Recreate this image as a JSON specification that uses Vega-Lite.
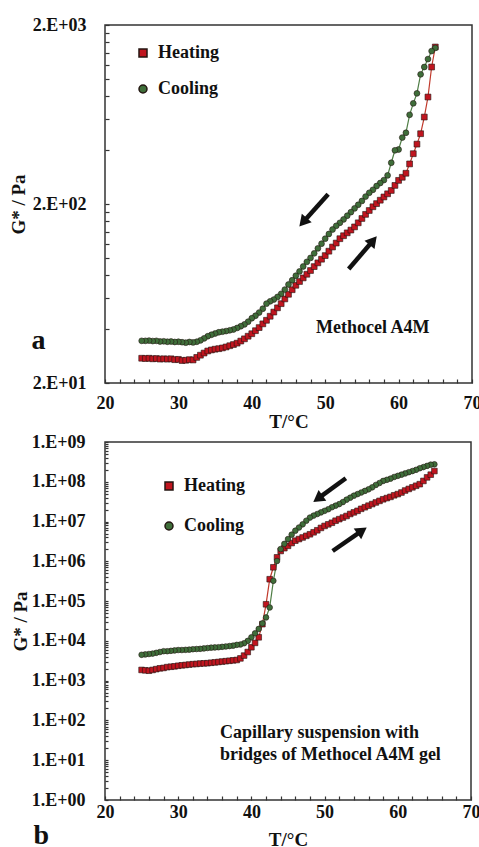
{
  "$schema": "https://vega.github.io/schema/vega-lite/v6.json",
  "padding": {"top": 15, "left": 8, "right": 6, "bottom": 0},
  "spacing": 0,
  "resolve": {"legend": {"fill": "independent", "shape": "independent"}},
  "config": {
    "font": "Liberation Serif",
    "view": {"stroke": "#333", "strokeWidth": 1.5},
    "axis": {
      "labelFont": "Liberation Serif", "labelFontWeight": "bold", "labelFontSize": 18, "labelColor": "#111",
      "titleFont": "Liberation Serif", "titleFontWeight": "bold", "titleFontSize": 19, "titleColor": "#111",
      "grid": false, "domain": false, "tickColor": "#333", "tickWidth": 1.2, "tickSize": -4,
      "labelOverlap": false, "labelBound": false, "labelFlush": false
    },
    "legend": {
      "labelFont": "Liberation Serif", "labelFontWeight": "bold", "labelFontSize": 18, "labelColor": "#111",
      "symbolSize": 64, "padding": 0, "labelOffset": 6, "title": null
    }
  },
  "datasets": {
    "a": [
      {"s":"Heating","T":25,"G":27.5},{"s":"Heating","T":25.5,"G":27.4},{"s":"Heating","T":26,"G":27.5},{"s":"Heating","T":26.5,"G":27.3},
      {"s":"Heating","T":27,"G":27.4},{"s":"Heating","T":27.5,"G":27.2},{"s":"Heating","T":28,"G":27.3},{"s":"Heating","T":28.5,"G":27.2},
      {"s":"Heating","T":29,"G":27.3},{"s":"Heating","T":29.5,"G":27.0},{"s":"Heating","T":30,"G":27.1},{"s":"Heating","T":30.5,"G":26.7},
      {"s":"Heating","T":31,"G":26.8},{"s":"Heating","T":31.5,"G":27.0},{"s":"Heating","T":32,"G":26.9},{"s":"Heating","T":32.5,"G":27.8},
      {"s":"Heating","T":33,"G":28.6},{"s":"Heating","T":33.5,"G":29.4},{"s":"Heating","T":34,"G":30.2},{"s":"Heating","T":34.5,"G":30.6},
      {"s":"Heating","T":35,"G":30.9},{"s":"Heating","T":35.5,"G":31.1},{"s":"Heating","T":36,"G":31.4},{"s":"Heating","T":36.5,"G":31.8},
      {"s":"Heating","T":37,"G":32.3},{"s":"Heating","T":37.5,"G":32.8},{"s":"Heating","T":38,"G":33.4},{"s":"Heating","T":38.5,"G":34.3},
      {"s":"Heating","T":39,"G":35.3},{"s":"Heating","T":39.5,"G":36.5},{"s":"Heating","T":40,"G":37.7},{"s":"Heating","T":40.5,"G":39.2},
      {"s":"Heating","T":41,"G":40.8},{"s":"Heating","T":41.5,"G":42.8},{"s":"Heating","T":42,"G":44.8},{"s":"Heating","T":42.5,"G":47.2},
      {"s":"Heating","T":43,"G":49.8},{"s":"Heating","T":43.5,"G":52.6},{"s":"Heating","T":44,"G":55.5},{"s":"Heating","T":44.5,"G":59},
      {"s":"Heating","T":45,"G":62.6},{"s":"Heating","T":45.5,"G":66.4},{"s":"Heating","T":46,"G":70.3},{"s":"Heating","T":46.5,"G":73.8},
      {"s":"Heating","T":47,"G":77.3},{"s":"Heating","T":47.5,"G":81},{"s":"Heating","T":48,"G":85},{"s":"Heating","T":48.5,"G":89.4},
      {"s":"Heating","T":49,"G":93.8},{"s":"Heating","T":49.5,"G":98.3},{"s":"Heating","T":50,"G":103},{"s":"Heating","T":50.5,"G":109},
      {"s":"Heating","T":51,"G":115},{"s":"Heating","T":51.5,"G":121},{"s":"Heating","T":52,"G":128},{"s":"Heating","T":52.5,"G":133},
      {"s":"Heating","T":53,"G":138},{"s":"Heating","T":53.5,"G":143},{"s":"Heating","T":54,"G":149},{"s":"Heating","T":54.5,"G":157},
      {"s":"Heating","T":55,"G":166},{"s":"Heating","T":55.5,"G":175},{"s":"Heating","T":56,"G":184},{"s":"Heating","T":56.5,"G":193},
      {"s":"Heating","T":57,"G":201},{"s":"Heating","T":57.5,"G":210},{"s":"Heating","T":58,"G":219},{"s":"Heating","T":58.5,"G":228},
      {"s":"Heating","T":59,"G":238},{"s":"Heating","T":59.5,"G":254},{"s":"Heating","T":60,"G":271},{"s":"Heating","T":60.5,"G":282},
      {"s":"Heating","T":61,"G":297},{"s":"Heating","T":61.5,"G":335},{"s":"Heating","T":62,"G":382},{"s":"Heating","T":62.5,"G":432},
      {"s":"Heating","T":63,"G":494},{"s":"Heating","T":63.5,"G":612},{"s":"Heating","T":64,"G":792},{"s":"Heating","T":64.5,"G":1165},
      {"s":"Heating","T":65,"G":1507},
      {"s":"Cooling","T":65,"G":1490},{"s":"Cooling","T":64.5,"G":1430},{"s":"Cooling","T":64,"G":1290},{"s":"Cooling","T":63.5,"G":1165},
      {"s":"Cooling","T":63,"G":1060},{"s":"Cooling","T":62.5,"G":830},{"s":"Cooling","T":62,"G":730},{"s":"Cooling","T":61.5,"G":630},
      {"s":"Cooling","T":61,"G":500},{"s":"Cooling","T":60.5,"G":470},{"s":"Cooling","T":60,"G":403},{"s":"Cooling","T":59.5,"G":399},
      {"s":"Cooling","T":59,"G":340},{"s":"Cooling","T":58.5,"G":289},{"s":"Cooling","T":58,"G":272},{"s":"Cooling","T":57.5,"G":262},
      {"s":"Cooling","T":57,"G":252},{"s":"Cooling","T":56.5,"G":240},{"s":"Cooling","T":56,"G":231},{"s":"Cooling","T":55.5,"G":220},
      {"s":"Cooling","T":55,"G":208},{"s":"Cooling","T":54.5,"G":198},{"s":"Cooling","T":54,"G":189},{"s":"Cooling","T":53.5,"G":180},
      {"s":"Cooling","T":53,"G":172},{"s":"Cooling","T":52.5,"G":164},{"s":"Cooling","T":52,"G":157},{"s":"Cooling","T":51.5,"G":151},
      {"s":"Cooling","T":51,"G":144},{"s":"Cooling","T":50.5,"G":136},{"s":"Cooling","T":50,"G":128},{"s":"Cooling","T":49.5,"G":120},
      {"s":"Cooling","T":49,"G":113},{"s":"Cooling","T":48.5,"G":106},{"s":"Cooling","T":48,"G":100},{"s":"Cooling","T":47.5,"G":95},
      {"s":"Cooling","T":47,"G":89.5},{"s":"Cooling","T":46.5,"G":84},{"s":"Cooling","T":46,"G":79.5},{"s":"Cooling","T":45.5,"G":75},
      {"s":"Cooling","T":45,"G":71},{"s":"Cooling","T":44.5,"G":66.5},{"s":"Cooling","T":44,"G":63},{"s":"Cooling","T":43.5,"G":60.5},
      {"s":"Cooling","T":43,"G":58.5},{"s":"Cooling","T":42.5,"G":57.2},{"s":"Cooling","T":42,"G":55.5},{"s":"Cooling","T":41.5,"G":52},
      {"s":"Cooling","T":41,"G":49.5},{"s":"Cooling","T":40.5,"G":47.5},{"s":"Cooling","T":40,"G":46},{"s":"Cooling","T":39.5,"G":44},
      {"s":"Cooling","T":39,"G":42.5},{"s":"Cooling","T":38.5,"G":41.5},{"s":"Cooling","T":38,"G":40.6},{"s":"Cooling","T":37.5,"G":39.8},
      {"s":"Cooling","T":37,"G":39.4},{"s":"Cooling","T":36.5,"G":39},{"s":"Cooling","T":36,"G":38.7},{"s":"Cooling","T":35.5,"G":38.4},
      {"s":"Cooling","T":35,"G":37.8},{"s":"Cooling","T":34.5,"G":37.2},{"s":"Cooling","T":34,"G":36.5},{"s":"Cooling","T":33.5,"G":35.5},
      {"s":"Cooling","T":33,"G":34.6},{"s":"Cooling","T":32.5,"G":34},{"s":"Cooling","T":32,"G":33.7},{"s":"Cooling","T":31.5,"G":33.9},
      {"s":"Cooling","T":31,"G":33.6},{"s":"Cooling","T":30.5,"G":33.8},{"s":"Cooling","T":30,"G":34},{"s":"Cooling","T":29.5,"G":33.9},
      {"s":"Cooling","T":29,"G":34.1},{"s":"Cooling","T":28.5,"G":34},{"s":"Cooling","T":28,"G":34.2},{"s":"Cooling","T":27.5,"G":34.1},
      {"s":"Cooling","T":27,"G":34.4},{"s":"Cooling","T":26.5,"G":34.3},{"s":"Cooling","T":26,"G":34.5},{"s":"Cooling","T":25.5,"G":34.4},
      {"s":"Cooling","T":25,"G":34.4}
    ],
    "b": [
      {"s":"Heating","T":25,"G":1.86e3},{"s":"Heating","T":25.5,"G":1.82e3},{"s":"Heating","T":26,"G":1.78e3},{"s":"Heating","T":26.5,"G":1.86e3},
      {"s":"Heating","T":27,"G":1.95e3},{"s":"Heating","T":27.5,"G":2.04e3},{"s":"Heating","T":28,"G":2.09e3},{"s":"Heating","T":28.5,"G":2.19e3},
      {"s":"Heating","T":29,"G":2.24e3},{"s":"Heating","T":29.5,"G":2.29e3},{"s":"Heating","T":30,"G":2.37e3},{"s":"Heating","T":30.5,"G":2.43e3},
      {"s":"Heating","T":31,"G":2.48e3},{"s":"Heating","T":31.5,"G":2.54e3},{"s":"Heating","T":32,"G":2.60e3},{"s":"Heating","T":32.5,"G":2.63e3},
      {"s":"Heating","T":33,"G":2.69e3},{"s":"Heating","T":33.5,"G":2.72e3},{"s":"Heating","T":34,"G":2.75e3},{"s":"Heating","T":34.5,"G":2.82e3},
      {"s":"Heating","T":35,"G":2.88e3},{"s":"Heating","T":35.5,"G":2.95e3},{"s":"Heating","T":36,"G":3.02e3},{"s":"Heating","T":36.5,"G":3.09e3},
      {"s":"Heating","T":37,"G":3.16e3},{"s":"Heating","T":37.5,"G":3.24e3},{"s":"Heating","T":38,"G":3.31e3},{"s":"Heating","T":38.5,"G":3.63e3},
      {"s":"Heating","T":39,"G":4.27e3},{"s":"Heating","T":39.5,"G":5.25e3},{"s":"Heating","T":40,"G":6.92e3},{"s":"Heating","T":40.5,"G":8.91e3},
      {"s":"Heating","T":41,"G":1.23e4},{"s":"Heating","T":41.5,"G":2.63e4},{"s":"Heating","T":42,"G":8.32e4},{"s":"Heating","T":42.5,"G":3.55e5},
      {"s":"Heating","T":43,"G":7.08e5},{"s":"Heating","T":43.5,"G":1.26e6},{"s":"Heating","T":44,"G":1.82e6},{"s":"Heating","T":44.5,"G":2.14e6},
      {"s":"Heating","T":45,"G":2.45e6},{"s":"Heating","T":45.5,"G":2.88e6},{"s":"Heating","T":46,"G":3.31e6},{"s":"Heating","T":46.5,"G":3.63e6},
      {"s":"Heating","T":47,"G":3.98e6},{"s":"Heating","T":47.5,"G":4.37e6},{"s":"Heating","T":48,"G":4.79e6},{"s":"Heating","T":48.5,"G":5.37e6},
      {"s":"Heating","T":49,"G":6.03e6},{"s":"Heating","T":49.5,"G":6.92e6},{"s":"Heating","T":50,"G":7.76e6},{"s":"Heating","T":50.5,"G":8.51e6},
      {"s":"Heating","T":51,"G":9.33e6},{"s":"Heating","T":51.5,"G":1.05e7},{"s":"Heating","T":52,"G":1.15e7},{"s":"Heating","T":52.5,"G":1.26e7},
      {"s":"Heating","T":53,"G":1.38e7},{"s":"Heating","T":53.5,"G":1.55e7},{"s":"Heating","T":54,"G":1.70e7},{"s":"Heating","T":54.5,"G":1.86e7},
      {"s":"Heating","T":55,"G":2.09e7},{"s":"Heating","T":55.5,"G":2.29e7},{"s":"Heating","T":56,"G":2.51e7},{"s":"Heating","T":56.5,"G":2.75e7},
      {"s":"Heating","T":57,"G":3.02e7},{"s":"Heating","T":57.5,"G":3.31e7},{"s":"Heating","T":58,"G":3.63e7},{"s":"Heating","T":58.5,"G":3.89e7},
      {"s":"Heating","T":59,"G":4.17e7},{"s":"Heating","T":59.5,"G":4.57e7},{"s":"Heating","T":60,"G":4.90e7},{"s":"Heating","T":60.5,"G":5.37e7},
      {"s":"Heating","T":61,"G":6.03e7},{"s":"Heating","T":61.5,"G":6.61e7},{"s":"Heating","T":62,"G":7.24e7},{"s":"Heating","T":62.5,"G":7.94e7},
      {"s":"Heating","T":63,"G":8.71e7},{"s":"Heating","T":63.5,"G":1.05e8},{"s":"Heating","T":64,"G":1.29e8},{"s":"Heating","T":64.5,"G":1.51e8},
      {"s":"Heating","T":65,"G":1.86e8},
      {"s":"Cooling","T":65,"G":2.75e8},{"s":"Cooling","T":64.5,"G":2.69e8},{"s":"Cooling","T":64,"G":2.51e8},{"s":"Cooling","T":63.5,"G":2.34e8},
      {"s":"Cooling","T":63,"G":2.19e8},{"s":"Cooling","T":62.5,"G":2.00e8},{"s":"Cooling","T":62,"G":1.86e8},{"s":"Cooling","T":61.5,"G":1.74e8},
      {"s":"Cooling","T":61,"G":1.62e8},{"s":"Cooling","T":60.5,"G":1.51e8},{"s":"Cooling","T":60,"G":1.41e8},{"s":"Cooling","T":59.5,"G":1.32e8},
      {"s":"Cooling","T":59,"G":1.20e8},{"s":"Cooling","T":58.5,"G":1.12e8},{"s":"Cooling","T":58,"G":1.05e8},{"s":"Cooling","T":57.5,"G":9.33e7},
      {"s":"Cooling","T":57,"G":8.32e7},{"s":"Cooling","T":56.5,"G":7.24e7},{"s":"Cooling","T":56,"G":6.46e7},{"s":"Cooling","T":55.5,"G":5.89e7},
      {"s":"Cooling","T":55,"G":5.37e7},{"s":"Cooling","T":54.5,"G":4.90e7},{"s":"Cooling","T":54,"G":4.47e7},{"s":"Cooling","T":53.5,"G":3.98e7},
      {"s":"Cooling","T":53,"G":3.55e7},{"s":"Cooling","T":52.5,"G":3.09e7},{"s":"Cooling","T":52,"G":2.75e7},{"s":"Cooling","T":51.5,"G":2.51e7},
      {"s":"Cooling","T":51,"G":2.29e7},{"s":"Cooling","T":50.5,"G":2.04e7},{"s":"Cooling","T":50,"G":1.86e7},{"s":"Cooling","T":49.5,"G":1.70e7},
      {"s":"Cooling","T":49,"G":1.55e7},{"s":"Cooling","T":48.5,"G":1.41e7},{"s":"Cooling","T":48,"G":1.26e7},{"s":"Cooling","T":47.5,"G":1.05e7},
      {"s":"Cooling","T":47,"G":8.51e6},{"s":"Cooling","T":46.5,"G":7.08e6},{"s":"Cooling","T":46,"G":5.89e6},{"s":"Cooling","T":45.5,"G":4.68e6},
      {"s":"Cooling","T":45,"G":3.63e6},{"s":"Cooling","T":44.5,"G":2.75e6},{"s":"Cooling","T":44,"G":2.04e6},{"s":"Cooling","T":43.5,"G":1.02e6},
      {"s":"Cooling","T":43,"G":3.24e5},{"s":"Cooling","T":42.5,"G":6.92e4},{"s":"Cooling","T":42,"G":3.89e4},{"s":"Cooling","T":41.5,"G":2.75e4},
      {"s":"Cooling","T":41,"G":2.00e4},{"s":"Cooling","T":40.5,"G":1.55e4},{"s":"Cooling","T":40,"G":1.23e4},{"s":"Cooling","T":39.5,"G":1.00e4},
      {"s":"Cooling","T":39,"G":8.71e3},{"s":"Cooling","T":38.5,"G":8.13e3},{"s":"Cooling","T":38,"G":7.94e3},{"s":"Cooling","T":37.5,"G":7.59e3},
      {"s":"Cooling","T":37,"G":7.41e3},{"s":"Cooling","T":36.5,"G":7.24e3},{"s":"Cooling","T":36,"G":7.08e3},{"s":"Cooling","T":35.5,"G":6.92e3},
      {"s":"Cooling","T":35,"G":6.84e3},{"s":"Cooling","T":34.5,"G":6.76e3},{"s":"Cooling","T":34,"G":6.61e3},{"s":"Cooling","T":33.5,"G":6.46e3},
      {"s":"Cooling","T":33,"G":6.31e3},{"s":"Cooling","T":32.5,"G":6.24e3},{"s":"Cooling","T":32,"G":6.17e3},{"s":"Cooling","T":31.5,"G":6.03e3},
      {"s":"Cooling","T":31,"G":5.96e3},{"s":"Cooling","T":30.5,"G":5.89e3},{"s":"Cooling","T":30,"G":5.89e3},{"s":"Cooling","T":29.5,"G":5.75e3},
      {"s":"Cooling","T":29,"G":5.62e3},{"s":"Cooling","T":28.5,"G":5.50e3},{"s":"Cooling","T":28,"G":5.50e3},{"s":"Cooling","T":27.5,"G":5.25e3},
      {"s":"Cooling","T":27,"G":5.01e3},{"s":"Cooling","T":26.5,"G":4.79e3},{"s":"Cooling","T":26,"G":4.68e3},{"s":"Cooling","T":25.5,"G":4.57e3},
      {"s":"Cooling","T":25,"G":4.47e3}
    ],
    "arrA": [
      {"id":1,"T":50.4,"G":227,"T2":46.98,"G2":158},
      {"id":2,"T":53.2,"G":86.7,"T2":56.53,"G2":125}
    ],
    "arrB": [
      {"id":1,"T":52.9,"G":1.23e8,"T2":49.08,"G2":3.76e7},
      {"id":2,"T":51.1,"G":1.82e6,"T2":55.12,"G2":5.9e6}
    ]
  },
  "vconcat": [
    {
      "width": 367, "height": 358,
      "resolve": {"axis": {"x": "independent"}},
      "layer": [
        {
          "data": {"name": "a"},
          "transform": [{"filter": "datum.s === 'Heating'"}],
          "mark": {"type": "line", "strokeWidth": 1.2, "color": "#c0392b"},
          "encoding": {
            "x": {"field": "T", "type": "quantitative", "title": "T/°C", "scale": {"domain": [20, 70], "nice": false},
                  "axis": {"orient": "bottom", "title": "T/°C", "values": [20,30,40,50,60,70], "labelPadding": 15, "titlePadding": 0}},
            "y": {"field": "G", "type": "quantitative", "title": "G* / Pa", "scale": {"type": "log", "domain": [20, 2000], "nice": false},
                  "axis": {"title": "G* / Pa", "values": [20,40,60,80,100,120,140,160,180,200,400,600,800,1000,1200,1400,1600,1800,2000],
                           "labelExpr": "datum.value == 20 ? '2.E+01' : datum.value == 200 ? '2.E+02' : datum.value == 2000 ? '2.E+03' : ''",
                           "labelPadding": 23, "titlePadding": 4}}
          }
        },
        {
          "data": {"name": "a"},
          "transform": [{"filter": "datum.s === 'Cooling'"}],
          "mark": {"type": "line", "strokeWidth": 1.2, "color": "#4e7d44"},
          "encoding": {
            "x": {"field": "T", "type": "quantitative", "title": "T/°C", "axis": null},
            "y": {"field": "G", "type": "quantitative", "title": "G* / Pa"}
          }
        },
        {
          "data": {"name": "a"},
          "mark": {"type": "point", "filled": true, "size": 34, "strokeWidth": 0.8, "stroke": "#241612", "strokeOpacity": 0.75, "opacity": 1},
          "encoding": {
            "x": {"field": "T", "type": "quantitative", "title": "T/°C",
                  "axis": {"orient": "bottom", "title": null, "labels": false, "values": [22,24,26,28,32,34,36,38,42,44,46,48,52,54,56,58,62,64,66,68]}},
            "y": {"field": "G", "type": "quantitative", "title": "G* / Pa"},
            "fill": {"field": "s", "type": "nominal", "scale": {"domain": ["Heating", "Cooling"], "range": ["#c0151f", "#3f6e3a"]},
                     "legend": {"orient": "none", "legendX": 29, "legendY": 19, "rowPadding": 18, "labelFontWeight": "bold",
                                "encode": {"symbols": {
                                  "stroke": {"condition": {"test": "datum.value === 'Heating'", "value": "#4a0707"}, "value": "#1c3318"},
                                  "strokeWidth": {"value": 1}}}}},
            "shape": {"field": "s", "type": "nominal", "scale": {"domain": ["Heating", "Cooling"], "range": ["square", "circle"]}}
          }
        },
        {
          "data": {"name": "arrA"},
          "mark": {"type": "rule", "strokeWidth": 4.5, "color": "#111"},
          "encoding": {
            "x": {"field": "T", "type": "quantitative", "title": "T/°C", "axis": null},
            "y": {"field": "G", "type": "quantitative", "title": "G* / Pa"},
            "x2": {"field": "T2"}, "y2": {"field": "G2"}
          }
        },
        {
          "data": {"name": "arrA"},
          "transform": [{"filter": "datum.id == 1"}],
          "mark": {"type": "point", "shape": "triangle-up", "filled": true, "size": 170, "color": "#111", "angle": 221, "opacity": 1},
          "encoding": {"x": {"field": "T2", "type": "quantitative", "title": "T/°C", "axis": null}, "y": {"field": "G2", "type": "quantitative", "title": "G* / Pa"}}
        },
        {
          "data": {"name": "arrA"},
          "transform": [{"filter": "datum.id == 2"}],
          "mark": {"type": "point", "shape": "triangle-up", "filled": true, "size": 170, "color": "#111", "angle": 40, "opacity": 1},
          "encoding": {"x": {"field": "T2", "type": "quantitative", "title": "T/°C", "axis": null}, "y": {"field": "G2", "type": "quantitative", "title": "G* / Pa"}}
        },
        {
          "data": {"values": [{"T": 48.75, "G": 40.5, "txt": "Methocel A4M"}]},
          "mark": {"type": "text", "align": "left", "baseline": "middle", "fontSize": 18, "fontWeight": "bold", "font": "Liberation Serif", "color": "#111"},
          "encoding": {"x": {"field": "T", "type": "quantitative", "title": "T/°C", "axis": null}, "y": {"field": "G", "type": "quantitative", "title": "G* / Pa"}, "text": {"field": "txt"}}
        },
        {
          "data": {"values": [{"T": 10.94, "G": 31.0, "txt": "a"}]},
          "mark": {"type": "text", "align": "center", "baseline": "alphabetic", "fontSize": 28, "fontWeight": "bold", "font": "Liberation Serif", "color": "#111"},
          "encoding": {"x": {"field": "T", "type": "quantitative", "title": "T/°C", "axis": null}, "y": {"field": "G", "type": "quantitative", "title": "G* / Pa"}, "text": {"field": "txt"}}
        }
      ]
    },
    {
      "width": 366, "height": 358,
      "resolve": {"axis": {"x": "independent"}},
      "layer": [
        {
          "data": {"name": "b"},
          "transform": [{"filter": "datum.s === 'Heating'"}],
          "mark": {"type": "line", "strokeWidth": 1.2, "color": "#c0392b"},
          "encoding": {
            "x": {"field": "T", "type": "quantitative", "title": "T/°C", "scale": {"domain": [20, 70], "nice": false},
                  "axis": {"orient": "bottom", "title": "T/°C", "values": [20,30,40,50,60,70], "labelPadding": 7, "titlePadding": 9}},
            "y": {"field": "G", "type": "quantitative", "title": "G* / Pa", "scale": {"type": "log", "domain": [1, 1e9], "nice": false},
                  "axis": {"title": "G* / Pa",
                           "values": [1,2,3,4,5,6,7,8,9,10,20,30,40,50,60,70,80,90,100,200,300,400,500,600,700,800,900,1000,2000,3000,4000,5000,6000,7000,8000,9000,10000,20000,30000,40000,50000,60000,70000,80000,90000,100000,200000,300000,400000,500000,600000,700000,800000,900000,1000000,2000000,3000000,4000000,5000000,6000000,7000000,8000000,9000000,10000000,20000000,30000000,40000000,50000000,60000000,70000000,80000000,90000000,100000000,200000000,300000000,400000000,500000000,600000000,700000000,800000000,900000000,1000000000],
                           "labelExpr": "abs(log(datum.value)/LN10 - round(log(datum.value)/LN10)) < 0.000001 ? '1.E+0' + round(log(datum.value)/LN10) : ''",
                           "labelPadding": 23, "titlePadding": 1, "tickSize": -3}}
          }
        },
        {
          "data": {"name": "b"},
          "transform": [{"filter": "datum.s === 'Cooling'"}],
          "mark": {"type": "line", "strokeWidth": 1.2, "color": "#4e7d44"},
          "encoding": {
            "x": {"field": "T", "type": "quantitative", "title": "T/°C", "axis": null},
            "y": {"field": "G", "type": "quantitative", "title": "G* / Pa"}
          }
        },
        {
          "data": {"name": "b"},
          "mark": {"type": "point", "filled": true, "size": 32, "strokeWidth": 0.8, "stroke": "#241612", "strokeOpacity": 0.75, "opacity": 1},
          "encoding": {
            "x": {"field": "T", "type": "quantitative", "title": "T/°C",
                  "axis": {"orient": "bottom", "title": null, "labels": false, "values": [22,24,26,28,32,34,36,38,42,44,46,48,52,54,56,58,62,64,66,68]}},
            "y": {"field": "G", "type": "quantitative", "title": "G* / Pa"},
            "fill": {"field": "s", "type": "nominal", "scale": {"domain": ["Heating", "Cooling"], "range": ["#c0151f", "#3f6e3a"]},
                     "legend": {"orient": "none", "legendX": 55, "legendY": 35, "rowPadding": 22, "labelFontWeight": "bold",
                                "encode": {"symbols": {
                                  "stroke": {"condition": {"test": "datum.value === 'Heating'", "value": "#4a0707"}, "value": "#1c3318"},
                                  "strokeWidth": {"value": 1.1}}}}},
            "shape": {"field": "s", "type": "nominal", "scale": {"domain": ["Heating", "Cooling"], "range": ["square", "circle"]}}
          }
        },
        {
          "data": {"name": "arrB"},
          "mark": {"type": "rule", "strokeWidth": 4.5, "color": "#111"},
          "encoding": {
            "x": {"field": "T", "type": "quantitative", "title": "T/°C", "axis": null},
            "y": {"field": "G", "type": "quantitative", "title": "G* / Pa"},
            "x2": {"field": "T2"}, "y2": {"field": "G2"}
          }
        },
        {
          "data": {"name": "arrB"},
          "transform": [{"filter": "datum.id == 1"}],
          "mark": {"type": "point", "shape": "triangle-up", "filled": true, "size": 170, "color": "#111", "angle": 234, "opacity": 1},
          "encoding": {"x": {"field": "T2", "type": "quantitative", "title": "T/°C", "axis": null}, "y": {"field": "G2", "type": "quantitative", "title": "G* / Pa"}}
        },
        {
          "data": {"name": "arrB"},
          "transform": [{"filter": "datum.id == 2"}],
          "mark": {"type": "point", "shape": "triangle-up", "filled": true, "size": 170, "color": "#111", "angle": 55, "opacity": 1},
          "encoding": {"x": {"field": "T2", "type": "quantitative", "title": "T/°C", "axis": null}, "y": {"field": "G2", "type": "quantitative", "title": "G* / Pa"}}
        },
        {
          "data": {"values": [{"T": 35.7, "G": 48.2, "txt": "Capillary suspension with"}, {"T": 35.7, "G": 13.5, "txt": "bridges of Methocel A4M gel"}]},
          "mark": {"type": "text", "align": "left", "baseline": "middle", "fontSize": 18, "fontWeight": "bold", "font": "Liberation Serif", "color": "#111"},
          "encoding": {"x": {"field": "T", "type": "quantitative", "title": "T/°C", "axis": null}, "y": {"field": "G", "type": "quantitative", "title": "G* / Pa"}, "text": {"field": "txt"}}
        },
        {
          "data": {"values": [{"T": 11.3, "G": 0.078, "txt": "b"}]},
          "mark": {"type": "text", "align": "center", "baseline": "alphabetic", "fontSize": 28, "fontWeight": "bold", "font": "Liberation Serif", "color": "#111"},
          "encoding": {"x": {"field": "T", "type": "quantitative", "title": "T/°C", "axis": null}, "y": {"field": "G", "type": "quantitative", "title": "G* / Pa"}, "text": {"field": "txt"}}
        }
      ]
    }
  ]
}
